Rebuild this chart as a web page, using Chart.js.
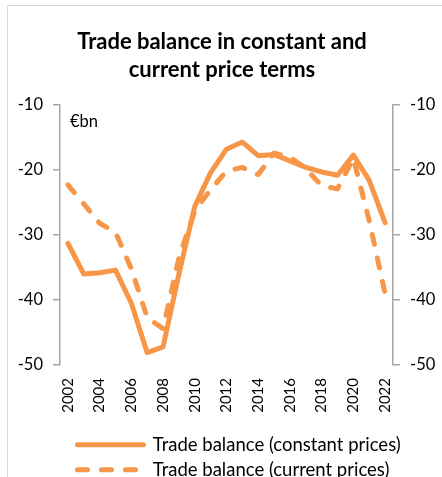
<!DOCTYPE html>
<html>
<head>
<meta charset="utf-8">
<script src="https://cdn.jsdelivr.net/npm/chart.js@4.4.1/dist/chart.umd.min.js"></script>
<style>
  html, body { margin: 0; padding: 0; background: #ffffff; overflow: hidden; }
  #wrap { position: relative; width: 442px; height: 477px; overflow: hidden; }
  #frame { position: absolute; left: 7px; top: 5px; width: 600px; height: 600px;
           border: 1.5px solid #d9d9d9; box-sizing: border-box; }
  #c { position: absolute; left: 0; top: 0; }
</style>
</head>
<body>
<div id="wrap">
  <div id="frame"></div>
  <canvas id="c" width="442" height="477"></canvas>
</div>
<script>
// ---- data ----
const years = ['2002','2003','2004','2005','2006','2007','2008','2009','2010','2011','2012',
               '2013','2014','2015','2016','2017','2018','2019','2020','2021','2022'];
const xTickLabels = ['2002','','2004','','2006','','2008','','2010','','2012',
                     '','2014','','2016','','2018','','2020','','2022'];
const constantPrices = [-31.3, -36.0, -35.8, -35.4, -40.5, -48.1, -47.2, -36.0, -25.6, -20.4, -16.8,
                        -15.7, -17.8, -17.6, -18.6, -19.6, -20.3, -20.8, -17.7, -21.6, -28.1];
const currentPrices  = [-22.3, -25.2, -28.2, -29.6, -35.2, -42.7, -44.4, -33.5, -26.3, -23.0, -20.2,
                        -19.6, -20.7, -17.4, -18.0, -19.8, -22.4, -22.9, -18.2, -27.8, -39.0];
const yTicks = [-50, -40, -30, -20, -10];
const seriesLabels = ['Trade balance (constant prices)', 'Trade balance (current prices)'];
const titleLines = ['Trade balance in constant and', 'current price terms'];
const unitLabel = '€bn';

const ORANGE = '#F79646';
const AXIS = '#a6a6a6';
const FONT = 'Lato';

Chart.defaults.font.family = FONT;
Chart.defaults.color = '#000000';

const unitPlugin = {
  id: 'unitLabel',
  afterDatasetsDraw(chart) {
    const ctx = chart.ctx;
    const a = chart.chartArea;
    ctx.save();
    ctx.font = '16.5px ' + FONT;
    ctx.fillStyle = '#000';
    ctx.textAlign = 'left';
    ctx.textBaseline = 'middle';
    ctx.fillText(unitLabel, a.left + 10, a.top + 17);
    ctx.restore();
  }
};

const placeBlocks = {
  id: 'placeBlocks',
  afterLayout(chart) {
    const lg = chart.legend;
    if (lg) {
      const dx = 71 - lg.left;
      lg.left += dx; lg.right += dx;
      const dy = 429 - lg.top;
      lg.top += dy; lg.bottom += dy;
    }
    const tb = chart.titleBlock;
    if (tb) { tb.left -= 4; tb.right -= 4; }
  }
};

new Chart(document.getElementById('c'), {
  type: 'line',
  data: {
    labels: years,
    datasets: [
      { label: seriesLabels[0], data: constantPrices, borderColor: ORANGE, backgroundColor: ORANGE,
        borderWidth: 5, pointRadius: 0, tension: 0, borderJoinStyle: 'round', borderCapStyle: 'round',
        order: 1, yAxisID: 'y' },
      { label: seriesLabels[1], data: currentPrices, borderColor: ORANGE, backgroundColor: ORANGE,
        borderWidth: 5, pointRadius: 0, tension: 0, borderJoinStyle: 'round', borderCapStyle: 'round',
        borderDash: [10, 14], order: 0, yAxisID: 'y' }
    ]
  },
  options: {
    responsive: false,
    animation: false,
    devicePixelRatio: 1,
    layout: { padding: { left: 10, right: 0, top: 0, bottom: 0 } },
    plugins: {
      tooltip: { enabled: false },
      title: {
        display: true, text: titleLines, color: '#000',
        font: { size: 22, weight: 'bold', lineHeight: 1.286 },
        padding: { top: 27.6, bottom: 20.8 }
      },
      legend: {
        display: true, position: 'bottom', align: 'start', maxHeight: 56,
        labels: {
          usePointStyle: true, pointStyleWidth: 66, padding: 6.5,
          font: { size: 18.5 }, color: '#000',
          generateLabels: (chart) => chart.data.datasets.map((ds, i) => ({
            text: ds.label, fillStyle: ds.borderColor, strokeStyle: ds.borderColor,
            lineWidth: ds.borderWidth, lineDash: ds.borderDash || [], lineCap: 'round',
            lineJoin: 'round', pointStyle: 'line', rotation: 0, hidden: false,
            datasetIndex: i, fontColor: '#000'
          }))
        }
      }
    },
    scales: {
      x: {
        type: 'category', offset: true,
        grid: { display: false, drawTicks: false },
        border: { display: false },
        ticks: {
          autoSkip: false, minRotation: 90, maxRotation: 90, padding: 13,
          font: { size: 15 }, color: '#000',
          callback: (v, i) => xTickLabels[i]
        },
        afterFit(s) { s.height = 56; }
      },
      y: {
        position: 'left', min: -50, max: -10,
        afterBuildTicks(s) { s.ticks = yTicks.map(v => ({ value: v })); },
        ticks: { padding: 10, font: { size: 16.5 }, color: '#000' },
        grid: { drawOnChartArea: false, drawTicks: true, tickLength: 7, color: AXIS, lineWidth: 1.5 },
        border: { display: true, color: AXIS, width: 1.5 },
        afterFit(s) { s.width = 50; }
      },
      y2: {
        position: 'right', min: -50, max: -10,
        afterBuildTicks(s) { s.ticks = yTicks.map(v => ({ value: v })); },
        ticks: { padding: 10, font: { size: 16.5 }, color: '#000' },
        grid: { drawOnChartArea: false, drawTicks: true, tickLength: 7, color: AXIS, lineWidth: 1.5 },
        border: { display: true, color: AXIS, width: 1.5 },
        afterFit(s) { s.width = 49; }
      }
    }
  },
  plugins: [unitPlugin, placeBlocks]
});
</script>
</body>
</html>
